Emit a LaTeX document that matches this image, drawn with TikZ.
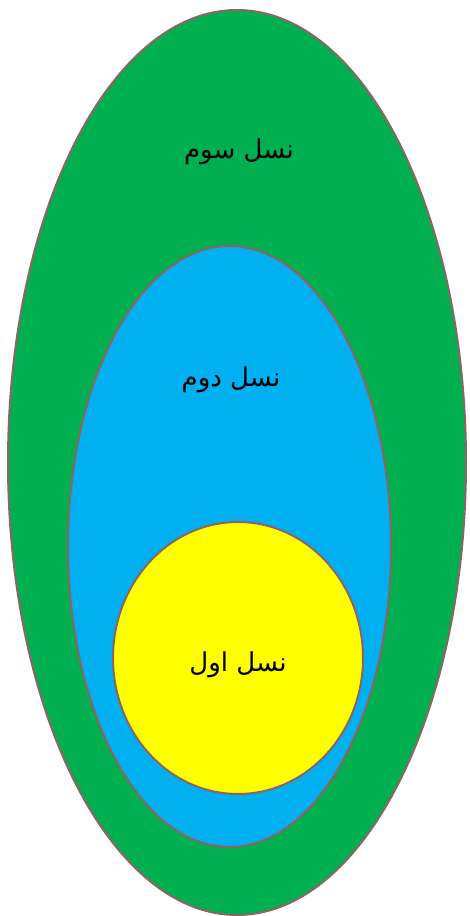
\documentclass[tikz,border=0pt]{standalone}
\usepackage{fontspec}
\newfontfamily\arabicfont[Script=Arabic]{DejaVu Sans}
\TeXXeTstate=1
\usepackage{xcolor}
\usetikzlibrary{positioning}

\definecolor{rimbrown}{RGB}{140,100,100}
\definecolor{genthree}{RGB}{0,176,80}
\definecolor{gentwo}{RGB}{0,176,240}
\definecolor{genone}{RGB}{255,255,0}

\begin{document}
\begin{tikzpicture}[x=1pt,y=1pt,
  genshape/.style={line width=2pt, draw=rimbrown},
  genlabel/.style={font=\arabicfont\fontsize{26}{30}\selectfont, inner sep=0pt}]
\useasboundingbox (0,0) rectangle (469,916);

% Third generation (outer)
\draw[genshape, fill=genthree] (237,453.5) ellipse (229 and 452.5);
\node[genlabel] (third) at (239,764) {\beginR نسل سوم\endR};

% Second generation
\draw[genshape, fill=gentwo] (229.5,369.5) ellipse (161.5 and 300.5);
\node[genlabel] (second) at (231,536) {\beginR نسل دوم\endR};

% First generation (inner)
\draw[genshape, fill=genone] (238,258) ellipse (125 and 136);
\node[genlabel] (first) at (238,251) {\beginR نسل اول\endR};
\end{tikzpicture}
\end{document}
